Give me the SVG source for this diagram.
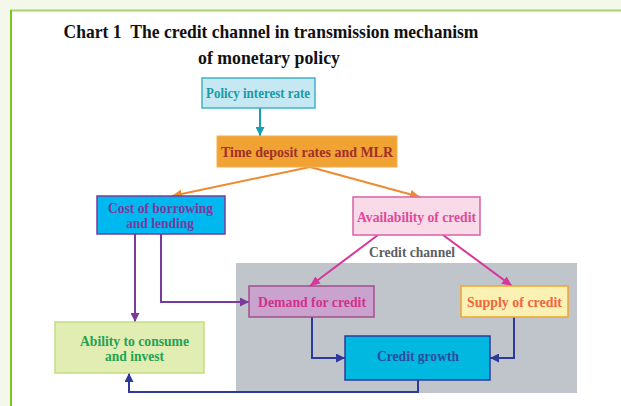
<svg xmlns="http://www.w3.org/2000/svg" width="621" height="406" viewBox="0 0 621 406">
<style>
.t{font-family:"Liberation Serif","Times New Roman",serif;font-weight:bold;text-anchor:middle}
.title{font-size:19px;fill:#111}
.n{font-size:14.5px}
.ln{fill:none;stroke-width:2}
</style>
<defs>
<marker id="mTeal" markerUnits="userSpaceOnUse" markerWidth="10" markerHeight="9" refX="9" refY="4.5" orient="auto"><path d="M0,0 L9,4.5 L0,9 z" fill="#12a0b4"/></marker>
<marker id="mOr" markerUnits="userSpaceOnUse" markerWidth="11" markerHeight="9" refX="10" refY="4.5" orient="auto"><path d="M0,0 L10,4.5 L0,9 z" fill="#f08a30"/></marker>
<marker id="mPink" markerUnits="userSpaceOnUse" markerWidth="11" markerHeight="9" refX="10" refY="4.5" orient="auto"><path d="M0,0 L10,4.5 L0,9 z" fill="#d8369a"/></marker>
<marker id="mPur" markerUnits="userSpaceOnUse" markerWidth="10" markerHeight="9" refX="9" refY="4.5" orient="auto"><path d="M0,0 L9,4.5 L0,9 z" fill="#7a3a9c"/></marker>
<marker id="mBlue" markerUnits="userSpaceOnUse" markerWidth="10" markerHeight="9" refX="9" refY="4.5" orient="auto"><path d="M0,0 L9,4.5 L0,9 z" fill="#2c3a9c"/></marker>
</defs>
<rect x="0" y="0" width="621" height="406" fill="#f3f8ea"/>
<rect x="10" y="10" width="611" height="396" fill="#ffffff"/>
<line x1="10" y1="10.5" x2="621" y2="10.5" stroke="#a8d468" stroke-width="2"/>
<line x1="11" y1="10" x2="11" y2="406" stroke="#78c820" stroke-width="2"/>
<text class="t title" x="271" y="38" textLength="415" lengthAdjust="spacingAndGlyphs">Chart 1 &#160;The credit channel in transmission mechanism</text>
<text class="t title" x="269" y="64" textLength="142" lengthAdjust="spacingAndGlyphs">of monetary policy</text>
<rect id="credit-channel-area" x="236" y="263" width="341" height="130" fill="#c0c4cb"/>
<text class="t n" x="412" y="257" fill="#5a5e66" textLength="86" lengthAdjust="spacingAndGlyphs">Credit channel</text>
<g id="connectors">
<line class="ln" x1="260" y1="108" x2="260" y2="136" stroke="#12a0b4" marker-end="url(#mTeal)"/>
<line class="ln" x1="310" y1="167" x2="172" y2="196" stroke="#f08a30" marker-end="url(#mOr)"/>
<line class="ln" x1="310" y1="167" x2="420" y2="197" stroke="#f08a30" marker-end="url(#mOr)"/>
<line class="ln" x1="378" y1="235" x2="310" y2="286" stroke="#d8369a" marker-end="url(#mPink)"/>
<line class="ln" x1="443" y1="235" x2="512" y2="286" stroke="#d8369a" marker-end="url(#mPink)"/>
<polyline class="ln" points="135,234 135,322" stroke="#7a3a9c" marker-end="url(#mPur)"/>
<polyline class="ln" points="161,234 161,302 249,302" stroke="#7a3a9c" marker-end="url(#mPur)"/>
<polyline class="ln" points="312,317 312,358 345,358" stroke="#2c3a9c" marker-end="url(#mBlue)"/>
<polyline class="ln" points="514,317 514,358 490,358" stroke="#2c3a9c" marker-end="url(#mBlue)"/>
<polyline class="ln" points="418,380 418,392 129,392 129,373" stroke="#2c3a9c" marker-end="url(#mBlue)"/>
</g>
<g id="policy-rate">
<rect x="202" y="78" width="113" height="30" fill="#c6e8f3" stroke="#3eb2c8" stroke-width="1.5"/>
<text class="t n" x="258" y="98" fill="#1a9aa8" textLength="104" lengthAdjust="spacingAndGlyphs">Policy interest rate</text>
</g>
<g id="time-deposit">
<rect x="217" y="136" width="180" height="31" fill="#f0a232" stroke="#f4b050" stroke-width="1"/>
<text class="t n" x="307" y="157" fill="#a0302a" textLength="172" lengthAdjust="spacingAndGlyphs">Time deposit rates and MLR</text>
</g>
<g id="cost-borrowing">
<rect x="97" y="196" width="128" height="38" fill="#00b8f0" stroke="#7a3a9c" stroke-width="1.5"/>
<text class="t n" x="160.5" y="213" fill="#7a3a9c" textLength="105" lengthAdjust="spacingAndGlyphs">Cost of borrowing</text>
<text class="t n" x="160" y="228" fill="#7a3a9c" textLength="68" lengthAdjust="spacingAndGlyphs">and lending</text>
</g>
<g id="availability">
<rect x="353" y="197" width="127" height="38" fill="#f8dae8" stroke="#d862a2" stroke-width="1.5"/>
<text class="t n" x="416.5" y="222" fill="#e2489a" textLength="119" lengthAdjust="spacingAndGlyphs">Availability of credit</text>
</g>
<g id="demand">
<rect x="249" y="286" width="125" height="31" fill="#c9a2cd" stroke="#a0508c" stroke-width="1.5"/>
<text class="t n" x="312" y="307" fill="#d2308c" textLength="108" lengthAdjust="spacingAndGlyphs">Demand for credit</text>
</g>
<g id="supply">
<rect x="461" y="286" width="107" height="31" fill="#fbf1b2" stroke="#f0a432" stroke-width="1.5"/>
<text class="t n" x="514.5" y="307" fill="#f26440" textLength="95" lengthAdjust="spacingAndGlyphs">Supply of credit</text>
</g>
<g id="credit-growth">
<rect x="345" y="336" width="145" height="44" fill="#00b8e0" stroke="#2c3a9c" stroke-width="1.5"/>
<text class="t n" x="418" y="361" fill="#2a4c9e" textLength="82" lengthAdjust="spacingAndGlyphs">Credit growth</text>
</g>
<g id="ability">
<rect x="55" y="322" width="149" height="51" fill="#e1edb2" stroke="#c2de82" stroke-width="1.5"/>
<text class="t n" x="134.5" y="346" fill="#22a452" textLength="109" lengthAdjust="spacingAndGlyphs">Ability to consume</text>
<text class="t n" x="134.5" y="361" fill="#22a452" textLength="59" lengthAdjust="spacingAndGlyphs">and invest</text>
</g>
</svg>
